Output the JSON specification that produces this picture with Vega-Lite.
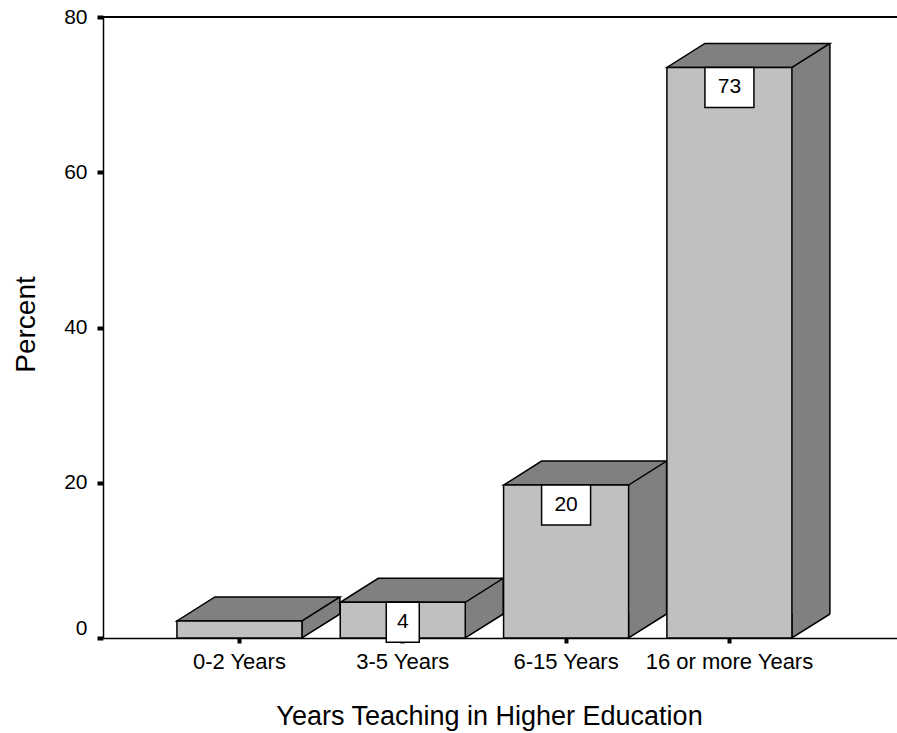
{
  "$schema": "https://vega.github.io/schema/vega-lite/v6.json",
  "width": 794,
  "height": 621,
  "autosize": {"type": "none"},
  "padding": {"left": 103, "top": 17, "right": 0, "bottom": 95},
  "background": "white",
  "config": {"view": {"stroke": null}, "font": "Liberation Sans"},
  "data": {
    "values": [
      {"category": "0-2 Years", "percent": 2.2, "label": null},
      {"category": "3-5 Years", "percent": 4.6, "label": "4"},
      {"category": "6-15 Years", "percent": 19.7, "label": "20"},
      {"category": "16 or more Years", "percent": 73.5, "label": "73"}
    ]
  },
  "layer": [
    {
      "mark": {"type": "rule", "strokeWidth": 38, "strokeCap": "butt", "color": "#808080", "xOffset": 81.5, "yOffset": -24, "y2Offset": -24},
      "encoding": {
        "x": {"field": "category", "type": "nominal", "sort": null,
              "scale": {"paddingInner": 0.2346, "paddingOuter": 0.548, "align": 0.413}},
        "y": {"field": "percent", "type": "quantitative", "scale": {"domain": [0, 80], "nice": false}},
        "y2": {"datum": 0}
      }
    },
    {
      "mark": {"type": "point", "shape": "M 62.5 -24 L 62.5 0 L 100.5 -24", "size": 4, "filled": true, "fill": "#808080", "stroke": "black", "strokeWidth": 1.5, "opacity": 1, "fillOpacity": 1, "strokeOpacity": 1},
      "encoding": {
        "x": {"field": "category", "type": "nominal", "sort": null},
        "y": {"datum": 0, "type": "quantitative"}
      }
    },
    {
      "mark": {"type": "rule", "strokeWidth": 1.5, "color": "black", "xOffset": 100.5, "yOffset": -24, "y2Offset": -24},
      "encoding": {
        "x": {"field": "category", "type": "nominal", "sort": null},
        "y": {"field": "percent", "type": "quantitative"},
        "y2": {"datum": 0}
      }
    },
    {
      "mark": {"type": "point", "shape": "M -62.5 0 L 62.5 0 L 100.5 -24 L -24.5 -24 Z", "size": 4, "filled": true, "fill": "#808080", "stroke": "black", "strokeWidth": 1.5, "opacity": 1, "fillOpacity": 1, "strokeOpacity": 1},
      "encoding": {
        "x": {"field": "category", "type": "nominal", "sort": null},
        "y": {"field": "percent", "type": "quantitative"}
      }
    },
    {
      "mark": {"type": "bar", "fill": "#c0c0c0", "stroke": "black", "strokeWidth": 1.5},
      "encoding": {
        "x": {
          "field": "category", "type": "nominal", "sort": null,
          "axis": {
            "title": "Years Teaching in Higher Education",
            "titleFontSize": 27, "titleFontWeight": "normal", "titleColor": "black",
            "titleX": 386, "titleY": 86, "titleBaseline": "alphabetic", "titleAlign": "center",
            "labelFontSize": 22, "labelColor": "black", "labelPadding": 8, "labelAngle": 0,
            "labelAlign": "center", "labelBaseline": "top",
            "labelOverlap": false, "bandPosition": 0.5,
            "tickColor": "black", "tickSize": 5, "tickWidth": 4,
            "domainColor": "black", "domainWidth": 1.5
          }
        },
        "y": {
          "field": "percent", "type": "quantitative",
          "axis": {
            "title": "Percent", "values": [0, 20, 40, 60, 80], "grid": false,
            "titleFontSize": 28, "titleFontWeight": "normal", "titleColor": "black",
            "titleAngle": -90, "titleX": -69, "titleY": 307, "titleAlign": "center", "titleBaseline": "alphabetic",
            "labelFontSize": 21, "labelColor": "black", "labelPadding": 10,
            "labelBaseline": {"condition": {"test": "datum.value === 0", "value": "bottom"}, "value": "middle"},
            "tickColor": "black", "tickSize": 6, "tickWidth": 4,
            "domainColor": "black", "domainWidth": 1.5
          }
        },
        "y2": {"datum": 0}
      }
    },
    {
      "transform": [{"filter": "datum.label != null"}],
      "mark": {"type": "bar", "fill": "white", "stroke": "black", "strokeWidth": 1.5, "y2Offset": 40},
      "encoding": {
        "x": {"field": "category", "type": "nominal", "sort": null},
        "y": {"field": "percent", "type": "quantitative"},
        "y2": {"field": "percent"},
        "size": {"condition": {"test": "length(datum.label) > 1", "value": 49}, "value": 33}
      }
    },
    {
      "transform": [{"filter": "datum.label != null"}],
      "mark": {"type": "text", "fontSize": 21, "color": "black", "baseline": "middle", "align": "center", "yOffset": 20},
      "encoding": {
        "x": {"field": "category", "type": "nominal", "sort": null},
        "y": {"field": "percent", "type": "quantitative"},
        "text": {"field": "label"}
      }
    },
    {
      "mark": {"type": "rule", "color": "black", "strokeWidth": 1.5},
      "encoding": {"y": {"datum": 80, "type": "quantitative"}}
    }
  ]
}
